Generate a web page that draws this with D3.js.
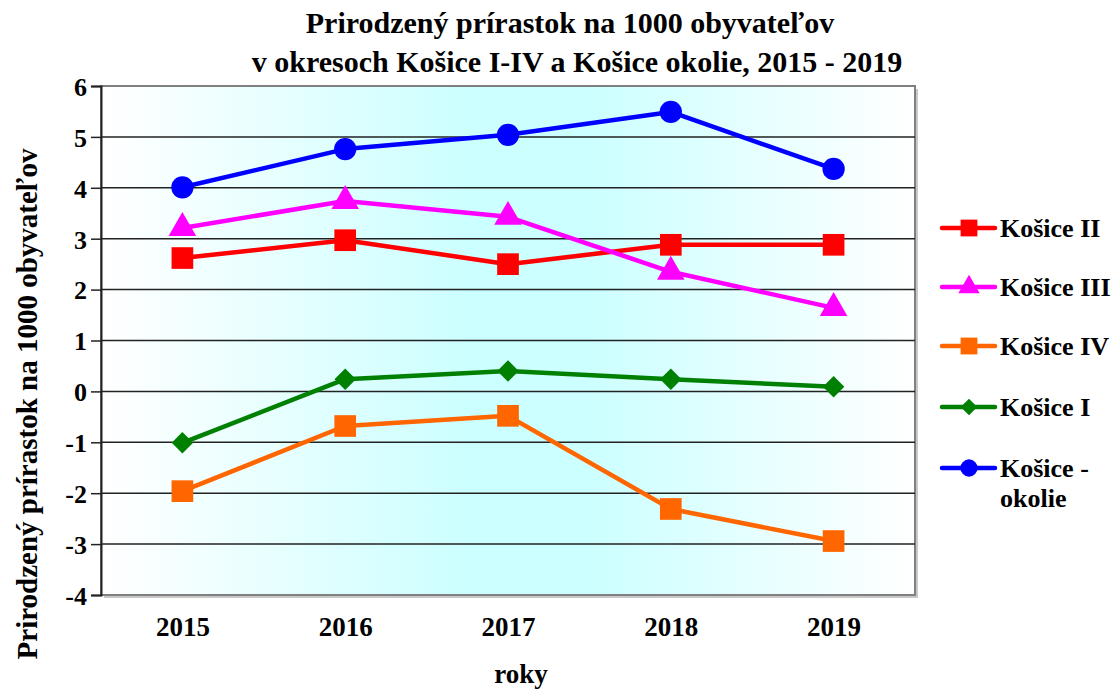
<!DOCTYPE html>
<html>
<head>
<meta charset="utf-8">
<script src="https://cdn.jsdelivr.net/npm/d3@7"></script>
<style>
  body { margin: 0; background: #fff; }
  text { font-family: "Liberation Serif", "Times New Roman", serif; font-weight: bold; fill: #000; }
</style>
</head>
<body>
<svg id="chart" width="1120" height="691"></svg>
<script>
var years = ["2015", "2016", "2017", "2018", "2019"]; // categories on x axis
var yTicks = [-4, -3, -2, -1, 0, 1, 2, 3, 4, 5, 6];

var kosiceII = [2.62, 2.97, 2.50, 2.88, 2.88];
var kosiceIII = [3.21, 3.74, 3.43, 2.35, 1.64];
var kosiceIV = [-1.96, -0.68, -0.48, -2.31, -2.94];
var kosiceI = [-1.01, 0.24, 0.40, 0.24, 0.09];
var kosiceOkolie = [4.01, 4.76, 5.04, 5.49, 4.37];

var seriesNames = ["Košice II", "Košice III", "Košice IV", "Košice I", "Košice - okolie"];
var seriesColors = ["#ff0000", "#ff00ff", "#ff6600", "#008000", "#0000ff"];
var seriesSymbols = [d3.symbolSquare, d3.symbolTriangle, d3.symbolSquare, d3.symbolSquare, d3.symbolCircle];
var seriesRotate = [0, 0, 0, 45, 0]; // Košice I uses a square turned into a diamond
var seriesSizes = [470, 330, 470, 230, 390];
var seriesValues = [kosiceII, kosiceIII, kosiceIV, kosiceI, kosiceOkolie];

var svg = d3.select("#chart");
var plot = { left: 101, right: 915, top: 86, bottom: 595 };

// background gradient of plot area
var grad = svg.append("defs").append("linearGradient")
    .attr("id", "bg")
    .attr("x1", "0").attr("x2", "1").attr("y1", "0").attr("y2", "0");
grad.append("stop").attr("offset", "0").attr("stop-color", "#ffffff");
grad.append("stop").attr("offset", "0.45").attr("stop-color", "#ccffff");
grad.append("stop").attr("offset", "0.6").attr("stop-color", "#ccffff");
grad.append("stop").attr("offset", "1").attr("stop-color", "#ffffff");

// shadow + plot area
svg.append("rect")
    .attr("x", plot.left + 3).attr("y", plot.top + 3)
    .attr("width", plot.right - plot.left).attr("height", plot.bottom - plot.top)
    .attr("fill", "#c8c8c8");
svg.append("rect")
    .attr("x", plot.left).attr("y", plot.top)
    .attr("width", plot.right - plot.left).attr("height", plot.bottom - plot.top)
    .attr("fill", "url(#bg)")
    .attr("stroke", "#808080")
    .attr("stroke-width", 2);

var x = d3.scalePoint().domain(years).range([plot.left, plot.right]).padding(0.5);
var y = d3.scaleLinear().domain([-4, 6]).range([plot.bottom, plot.top]);

// gridlines
svg.append("g")
    .selectAll("line")
    .data(yTicks.filter(d => d > -4 && d < 6))
    .enter()
    .append("line")
    .attr("x1", plot.left).attr("x2", plot.right)
    .attr("y1", d => y(d)).attr("y2", d => y(d))
    .attr("stroke", "#222")
    .attr("stroke-width", 1.5);

// y axis
var yAxis = svg.append("g")
    .attr("transform", `translate(${plot.left},0)`)
    .call(d3.axisLeft(y).tickValues(yTicks).tickSize(10).tickPadding(4).tickFormat(d => String(d)));
yAxis.attr("font-family", null).attr("font-size", null);
yAxis.select(".domain").attr("stroke", "#222").attr("stroke-width", 2);
yAxis.selectAll(".tick line").attr("stroke", "#222").attr("stroke-width", 1.5);
yAxis.selectAll("text").style("font-size", "26px").attr("fill", "#000").attr("dy", "0.36em");

// x axis labels
var xAxis = svg.append("g")
    .attr("transform", `translate(0,${plot.bottom})`)
    .call(d3.axisBottom(x).tickSize(0).tickPadding(22));
xAxis.attr("font-family", null).attr("font-size", null);
xAxis.select(".domain").remove();
xAxis.selectAll("text").style("font-size", "27px").attr("fill", "#000");

// lines and markers
var line = d3.line().x((d, i) => x(years[i])).y(d => y(d));
var seriesGroup = svg.append("g");
seriesValues.forEach(function (vals, s) {
    seriesGroup.append("path")
        .datum(vals)
        .attr("d", line)
        .attr("fill", "none")
        .attr("stroke", seriesColors[s])
        .attr("stroke-width", 4.5)
        .attr("stroke-linejoin", "round");
});
seriesValues.forEach(function (vals, s) {
    seriesGroup.append("g").selectAll("path")
        .data(vals)
        .enter()
        .append("path")
        .attr("transform", (d, i) => `translate(${x(years[i])},${y(d)}) rotate(${seriesRotate[s]})`)
        .attr("d", d3.symbol().type(seriesSymbols[s]).size(seriesSizes[s]))
        .attr("fill", seriesColors[s]);
});

// title
var title = svg.append("text")
    .attr("text-anchor", "middle")
    .style("font-size", "30px");
title.append("tspan").attr("x", 570).attr("y", 33).text("Prirodzený prírastok na 1000 obyvateľov");
title.append("tspan").attr("x", 577).attr("y", 72).text("v okresoch Košice I-IV a Košice okolie, 2015 - 2019");

// axis titles
svg.append("text")
    .attr("transform", "translate(37,404) rotate(-90)")
    .attr("text-anchor", "middle")
    .style("font-size", "29px")
    .text("Prirodzený prírastok na 1000 obyvateľov");

svg.append("text")
    .attr("x", 521).attr("y", 683)
    .attr("text-anchor", "middle")
    .style("font-size", "27px")
    .text("roky");

// legend
var legendY = [228, 287, 346, 407, 468];
var legend = svg.append("g");
seriesNames.forEach(function (name, s) {
    var g = legend.append("g").attr("transform", `translate(942,${legendY[s]})`);
    g.append("line").attr("x1", 0).attr("x2", 53)
        .attr("stroke", seriesColors[s]).attr("stroke-width", 4.5).attr("stroke-linecap", "round");
    g.append("path").attr("transform", `translate(27,0) rotate(${seriesRotate[s]})`)
        .attr("d", d3.symbol().type(seriesSymbols[s]).size(seriesSizes[s] * 0.6))
        .attr("fill", seriesColors[s]);
    var t = g.append("text").attr("x", 58).attr("y", 8.5).style("font-size", "26px");
    if (name === "Košice - okolie") {
        t.append("tspan").attr("x", 58).text("Košice -");
        t.append("tspan").attr("x", 58).attr("dy", 30).text("okolie");
    } else {
        t.text(name);
    }
});
</script>
</body>
</html>
